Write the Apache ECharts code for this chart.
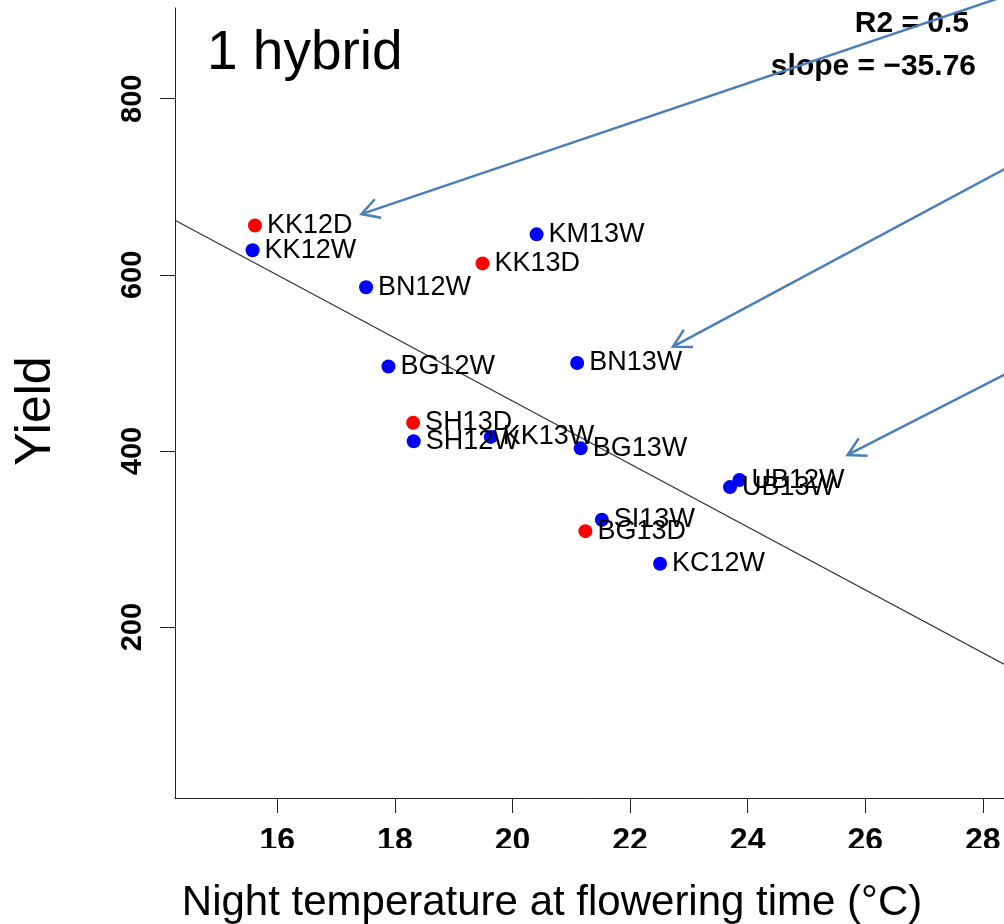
<!DOCTYPE html>
<html>
<head>
<meta charset="utf-8">
<title>1 hybrid</title>
<script src="https://cdn.jsdelivr.net/npm/echarts@6/dist/echarts.min.js"></script>
<style>
  html, body { margin: 0; padding: 0; background: #fff; }
  #chart { width: 1004px; height: 924px; }
</style>
</head>
<body>
<div id="chart"></div>
<script>
// 站点 / 夜温 / 产量
var sites = ['KK12D', 'KK12W', 'BN12W', 'KM13W', 'KK13D', 'BG12W', 'BN13W', 'SH13D',
             'SH12W', 'KK13W', 'BG13W', 'UB12W', 'UB13W', 'SI13W', 'BG13D', 'KC12W'];
var nightTemp = [15.62, 15.58, 17.51, 20.41, 19.49, 17.89, 21.10, 18.31,
                 18.32, 19.63, 21.16, 23.86, 23.70, 21.52, 21.24, 22.51];
var yieldVals = [656, 628, 586, 646, 613, 496, 500, 432,
                 411, 416, 403, 367, 359, 322, 309, 272];

var xTicks = [16, 18, 20, 22, 24, 26, 28];
var yTicks = [200, 400, 600, 800];

// 回归线两端
var fitLine = [[14.26, 662], [28.36, 158]];

// 箭头: [起点x, 起点y, 终点x, 终点y]
var arrows = [
  [29.99, 953, 17.43, 669],
  [29.99, 778, 22.73, 518.5],
  [29.99, 542, 25.70, 395.5]
];

var FONT = 'Liberation Sans, Arial, sans-serif';
var arrowColor = '#4a7ebb';

var pts = [];
for (var i = 0; i < sites.length; i++) {
  var dry = sites[i].charAt(sites[i].length - 1) == 'D';
  pts.push({
    name: sites[i],
    value: [nightTemp[i], yieldVals[i]],
    itemStyle: { color: dry ? '#ff0000' : '#0000ff', opacity: 1 }
  });
}

function renderArrow(params, api) {
  var p0 = api.coord([api.value(0), api.value(1)]);
  var p1 = api.coord([api.value(2), api.value(3)]);
  var ang = Math.atan2(p0[1] - p1[1], p0[0] - p1[0]);
  var len = 20, spread = Math.PI / 6.2;
  var a1 = [p1[0] + len * Math.cos(ang + spread), p1[1] + len * Math.sin(ang + spread)];
  var a2 = [p1[0] + len * Math.cos(ang - spread), p1[1] + len * Math.sin(ang - spread)];
  return {
    type: 'group',
    children: [
      { type: 'line', shape: { x1: p0[0], y1: p0[1], x2: p1[0], y2: p1[1] },
        style: { stroke: arrowColor, lineWidth: 2.5 } },
      { type: 'polyline', shape: { points: [a1, p1, a2] },
        style: { stroke: arrowColor, lineWidth: 2.5, fill: null } }
    ]
  };
}

var chart = echarts.init(document.getElementById('chart'));

chart.setOption({
  backgroundColor: '#fff',
  animation: false,
  textStyle: { fontFamily: FONT },
  grid: { left: 175, right: 0, top: 8, bottom: 126 },
  xAxis: {
    type: 'value',
    min: 14.26,
    max: 28.36,
    splitLine: { show: false },
    axisLine: { show: true, onZero: false, lineStyle: { color: '#222', width: 1 } },
    axisTick: { show: true, length: 15, customValues: xTicks, lineStyle: { color: '#222' } },
    axisLabel: {
      customValues: xTicks,
      margin: 27,
      color: '#000',
      fontSize: 32,
      fontWeight: 'bold',
      fontFamily: FONT
    }
  },
  yAxis: {
    type: 'value',
    min: 6,
    max: 903,
    splitLine: { show: false },
    axisLine: { show: true, onZero: false, lineStyle: { color: '#222', width: 1 } },
    axisTick: { show: true, length: 15, customValues: yTicks, lineStyle: { color: '#222' } },
    axisLabel: {
      customValues: yTicks,
      rotate: 90,
      margin: 28,
      color: '#000',
      fontSize: 29,
      fontWeight: 'bold',
      fontFamily: FONT
    }
  },
  graphic: [
    { type: 'text', x: 207, y: 54, z: 0,
      style: { text: '1 hybrid', font: '55px ' + FONT, fill: '#000', verticalAlign: 'middle' } },
    { type: 'text', x: 969, y: 24, z: 0,
      style: { text: 'R2 = 0.5', font: 'bold 30px ' + FONT, fill: '#000', align: 'right', verticalAlign: 'middle' } },
    { type: 'text', x: 976, y: 67, z: 0,
      style: { text: 'slope = \u221235.76', font: 'bold 30px ' + FONT, fill: '#000', align: 'right', verticalAlign: 'middle' } },
    { type: 'text', x: 36.5, y: 411, rotation: Math.PI / 2, z: 0,
      style: { text: 'Yield', font: '50px ' + FONT, fill: '#000', align: 'center', verticalAlign: 'middle' } },
    { type: 'text', x: 552, y: 903, z: 0,
      style: { text: 'Night temperature at flowering time (\u00b0C)', font: '42px ' + FONT, fill: '#000', align: 'center', verticalAlign: 'middle' } },
    // 截掉刻度文字下半部分
    { type: 'rect', z: 50, shape: { x: 168, y: 848, width: 840, height: 24 }, style: { fill: '#fff' } }
  ],
  series: [
    {
      type: 'line',
      data: fitLine,
      symbol: 'none',
      silent: true,
      lineStyle: { color: '#333', width: 1.2 },
      z: 1
    },
    {
      type: 'scatter',
      data: pts,
      symbolSize: 14,
      label: {
        show: true,
        position: 'right',
        distance: 5,
        formatter: '{b}',
        color: '#000',
        fontSize: 27,
        fontFamily: FONT
      },
      z: 3
    },
    {
      type: 'custom',
      data: arrows,
      renderItem: renderArrow,
      clip: false,
      silent: true,
      z: 4
    }
  ]
});
</script>
</body>
</html>
